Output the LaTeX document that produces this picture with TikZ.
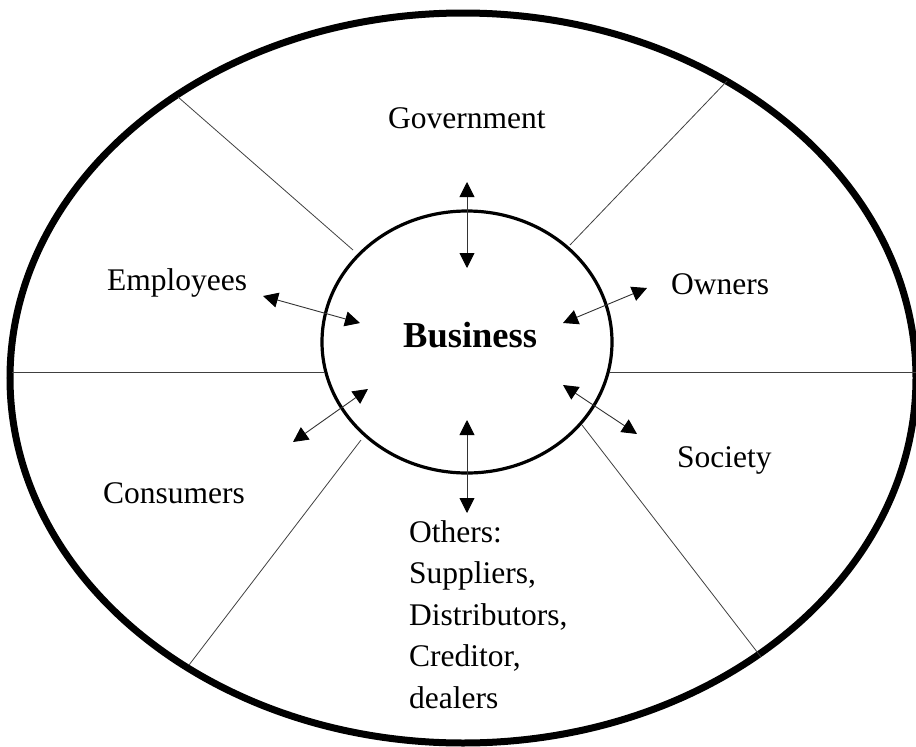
\documentclass[tikz,border=0pt]{standalone}
\usepackage{fontspec}
\setmainfont{Liberation Serif}
\usetikzlibrary{arrows.meta}
\tikzset{
  lbl/.style={anchor=base west, inner sep=0pt, font=\fontsize{31.5}{41.5}\selectfont, align=left},
  divider/.style={line width=0.8pt, draw=black!75},
  dbl/.style={line width=0.9pt, draw=black!80, {Triangle[length=15pt,width=15pt,fill=black,color=black]}-{Triangle[length=15pt,width=15pt,fill=black,color=black]}},
}
\begin{document}
\begin{tikzpicture}[x=1pt,y=-1pt]
\useasboundingbox (0,0) rectangle (916,747);
\begin{scope}
\clip (0,0) rectangle (916,747);
% outer and inner ellipses
\draw[line width=7pt] (463,378) ellipse [x radius=453, y radius=365];
\draw[line width=3.2pt] (467,342) ellipse [x radius=145, y radius=131];
% dividers
\coordinate (ul1) at (353,250); \coordinate (ul2) at (178,97);
\coordinate (ur1) at (570,245); \coordinate (ur2) at (727,81);
\coordinate (l1) at (325,372);  \coordinate (l2) at (12,372);
\coordinate (r1) at (610,372);  \coordinate (r2) at (916,372);
\coordinate (ll1) at (361,440); \coordinate (ll2) at (189,665);
\coordinate (lr1) at (582,425); \coordinate (lr2) at (761,657);
\draw[divider] (ul1) -- (ul2);
\draw[divider] (ur1) -- (ur2);
\draw[divider] (l1) -- (l2);
\draw[divider] (r1) -- (r2);
\draw[divider] (ll1) -- (ll2);
\draw[divider] (lr1) -- (lr2);
\end{scope}
% labels
\node[lbl] (gov) at (388,128) {Government};
\node[lbl] (emp) at (107,290) {Employees};
\node[lbl] (own) at (671,294) {Owners};
\node[lbl] (con) at (103,503) {Consumers};
\node[lbl] (soc) at (677,467) {Society};
\node[lbl, font=\fontsize{36.5}{44}\selectfont\bfseries] (bus) at (403,347) {Business};
\node[lbl, anchor=north west] (oth) at (409,520) {Others:\\Suppliers,\\Distributors,\\Creditor,\\dealers};
% arrows
\coordinate (g1) at (467,182); \coordinate (g2) at (467,268);
\coordinate (e1) at (263,296); \coordinate (e2) at (360,323);
\coordinate (o1) at (647,288); \coordinate (o2) at (563,323);
\coordinate (c1) at (293,442); \coordinate (c2) at (368,389);
\coordinate (s1) at (563,385); \coordinate (s2) at (637,434);
\coordinate (t1) at (467,420); \coordinate (t2) at (467,513);
\draw[dbl] (g1) -- (g2);
\draw[dbl] (e1) -- (e2);
\draw[dbl] (o1) -- (o2);
\draw[dbl] (c1) -- (c2);
\draw[dbl] (s1) -- (s2);
\draw[dbl] (t1) -- (t2);
\end{tikzpicture}
\end{document}
